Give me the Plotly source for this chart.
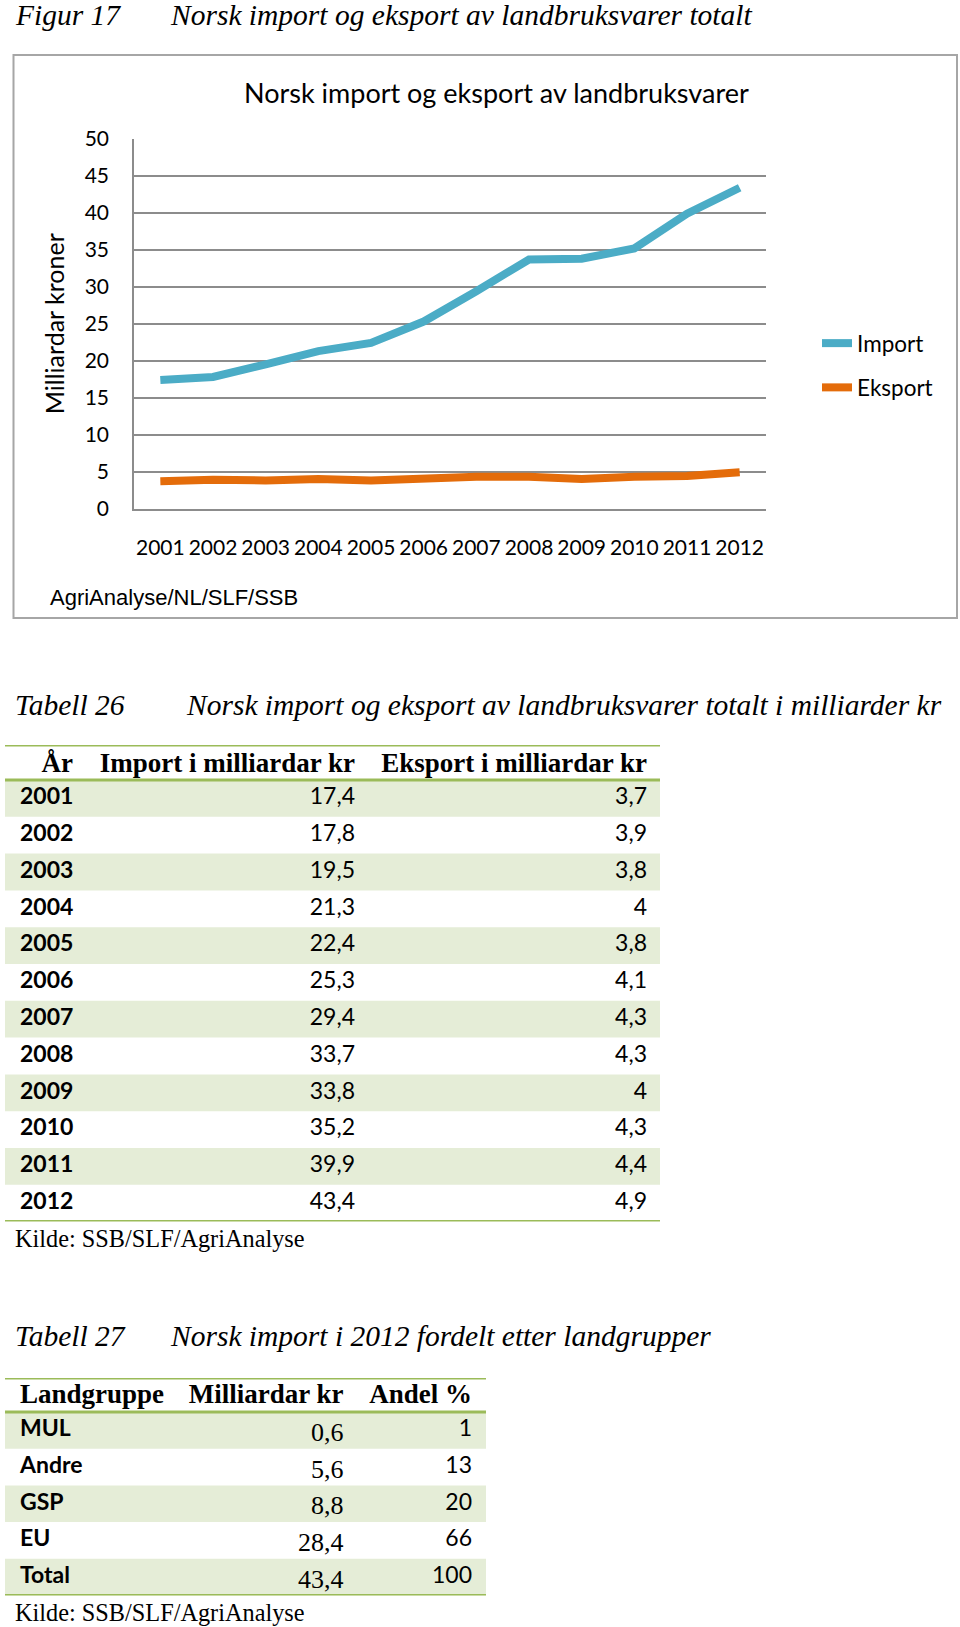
import plotly.graph_objects as go

# ---------------- data ----------------
years = ["2001", "2002", "2003", "2004", "2005", "2006",
         "2007", "2008", "2009", "2010", "2011", "2012"]
import_mrd = [17.4, 17.8, 19.5, 21.3, 22.4, 25.3, 29.4, 33.7, 33.8, 35.2, 39.9, 43.4]
eksport_mrd = [3.7, 3.9, 3.8, 4, 3.8, 4.1, 4.3, 4.3, 4, 4.3, 4.4, 4.9]

land_groups = ["MUL", "Andre", "GSP", "EU", "Total"]
land_mrd = [0.6, 5.6, 8.8, 28.4, 43.4]
land_andel = [1, 13, 20, 66, 100]

y_ticks = [0, 5, 10, 15, 20, 25, 30, 35, 40, 45, 50]

t26_headers = ["År", "Import i milliardar kr", "Eksport i milliardar kr"]
t27_headers = ["Landgruppe", "Milliardar kr", "Andel %"]

# ---------------- layout helpers ----------------
W, H = 960, 1627
def px(x):
    return x / W
def py(y):
    return 1 - y / H

BLUE = "#4BACC6"
ORANGE = "#E46C0A"
GRID = "#8C8C8C"
GREEN = "#9BBB59"
SHADE = "#E5EDD7"
SERIF = "Liberation Serif"
SANS = "Lato"

def fmt(v):
    return f"{v:g}".replace(".", ",")

fig = go.Figure()

# ---------------- line chart ----------------
fig.add_trace(go.Scatter(x=years, y=import_mrd, mode="lines", name="Import",
                         line=dict(color=BLUE, width=8), legendgroup="a",
                         xaxis="x", yaxis="y"))
fig.add_trace(go.Scatter(x=years, y=eksport_mrd, mode="lines", name="Eksport",
                         line=dict(color=ORANGE, width=8), legendgroup="b",
                         xaxis="x", yaxis="y"))

shapes = []

# ---------------- tables (drawn on hidden pixel-unit axes) ----------------
def add_table(ax_id, top, hdr_h, row_h, x_left, x_right, headers, header_cols, body_cols, hdr_yoff):
    n = len(body_cols[0][0])
    total = hdr_h + row_h * n
    xa, ya = f"x{ax_id}", f"y{ax_id}"
    fig.update_layout(**{
        f"xaxis{ax_id}": dict(domain=[0, 1], range=[0, W], visible=False, fixedrange=True),
        f"yaxis{ax_id}": dict(domain=[py(top + total), py(top)], range=[total, 0],
                              visible=False, fixedrange=True),
    })
    centers = [hdr_h + (i + 0.5) * row_h for i in range(n)]
    shaded = [c for i, c in enumerate(centers) if i % 2 == 0]
    fig.add_trace(go.Bar(orientation="h", y=shaded, x=[x_right - x_left] * len(shaded),
                         base=[x_left] * len(shaded), width=row_h,
                         marker=dict(color=SHADE, line=dict(width=0)),
                         xaxis=xa, yaxis=ya, showlegend=False, hoverinfo="skip"))
    for text, (xp, side, fam, size) in zip(headers, header_cols):
        fig.add_trace(go.Scatter(x=[xp], y=[hdr_h / 2 + hdr_yoff], mode="text", text=[f"<b>{text}</b>"],
                                 textposition="middle " + side, cliponaxis=False,
                                 textfont=dict(family=fam, size=size, color="black"),
                                 xaxis=xa, yaxis=ya, showlegend=False, hoverinfo="skip"))
    for vals, xp, side, fam, size, yoff, bold in body_cols:
        txt = [f"<b>{v}</b>" if bold else v for v in vals]
        fig.add_trace(go.Scatter(x=[xp] * n, y=[c + yoff for c in centers], mode="text", text=txt,
                                 textposition="middle " + side, cliponaxis=False,
                                 textfont=dict(family=fam, size=size, color="black"),
                                 xaxis=xa, yaxis=ya, showlegend=False, hoverinfo="skip"))
    for yy in [0, hdr_h, total]:
        shapes.append(dict(type="line", xref=xa, yref=ya, x0=x_left, x1=x_right, y0=yy, y1=yy,
                           line=dict(color=GREEN, width=3), layer="above"))

add_table(3, 745, 35, 36.8, 5, 660, t26_headers,
          [(73, "left", SERIF, 27), (355, "left", SERIF, 27), (647, "left", SERIF, 27)],
          [(years, 20, "right", SANS, 23, 0, True),
           ([fmt(v) for v in import_mrd], 355, "left", SANS, 23, 0, False),
           ([fmt(v) for v in eksport_mrd], 647, "left", SANS, 23, 0, False)], 3)

add_table(4, 1378, 34, 36.7, 5, 486, t27_headers,
          [(20, "right", SERIF, 27), (343.5, "left", SERIF, 27), (472, "left", SERIF, 27)],
          [(land_groups, 20, "right", SANS, 23, 0, True),
           ([fmt(v) for v in land_mrd], 343.5, "left", SERIF, 26, 4, False),
           ([fmt(v) for v in land_andel], 472, "left", SANS, 23, 0, False)], 1)

# chart frame
shapes.append(dict(type="rect", xref="paper", yref="paper",
                   x0=px(13.5), x1=px(957), y0=py(618), y1=py(55),
                   line=dict(color="#A6A6A6", width=2), fillcolor="rgba(0,0,0,0)", layer="below"))

annotations = []
def ann(text, x, y, size, family, xanchor="left", italic=False, color="black"):
    annotations.append(dict(text=(f"<i>{text}</i>" if italic else text),
                            xref="paper", yref="paper", x=px(x), y=py(y),
                            xanchor=xanchor, yanchor="middle", showarrow=False,
                            font=dict(size=size, family=family, color=color)))

ann("Figur 17", 13, 15, 29.5, SERIF, italic=True)
ann("Norsk import og eksport av landbruksvarer totalt", 168, 15, 29.5, SERIF, italic=True)
ann("Norsk import og eksport av landbruksvarer", 496, 92, 27, SANS, xanchor="center")
ann("AgriAnalyse/NL/SLF/SSB", 48, 598, 22, "Liberation Sans")
ann("Tabell 26", 13, 705, 29.5, SERIF, italic=True)
ann("Norsk import og eksport av landbruksvarer totalt i milliarder kr", 184, 705, 29.5, SERIF, italic=True)
ann("Kilde: SSB/SLF/AgriAnalyse", 13, 1238, 24.3, SERIF)
ann("Tabell 27", 13, 1336, 29.5, SERIF, italic=True)
ann("Norsk import i 2012 fordelt etter landgrupper", 168, 1336, 29.5, SERIF, italic=True)
ann("Kilde: SSB/SLF/AgriAnalyse", 13, 1612, 24.3, SERIF)

fig.update_layout(
    width=W, height=H,
    margin=dict(l=0, r=0, t=0, b=0, autoexpand=False),
    paper_bgcolor="white", plot_bgcolor="white",
    showlegend=True, barmode="overlay",
    legend=dict(x=px(817), y=py(322), xanchor="left", yanchor="top",
                font=dict(family=SANS, size=22.5, color="black"),
                tracegroupgap=12, bgcolor="rgba(0,0,0,0)"),
    xaxis=dict(domain=[px(134), px(766)], type="category", range=[-0.5, 11.5],
               showgrid=False, showline=True, linecolor=GRID, linewidth=1.5,
               ticks="", tickfont=dict(family=SANS, size=21, color="black"),
               ticklabelstandoff=20, fixedrange=True),
    yaxis=dict(domain=[py(508.5), py(139)], range=[0, 50], tickvals=y_ticks,
               showgrid=True, gridcolor=GRID, gridwidth=1.5, zeroline=False,
               showline=True, linecolor=GRID, linewidth=1.5, ticks="",
               tickfont=dict(family=SANS, size=21, color="black"),
               ticklabelstandoff=19,
               title=dict(text="Milliardar kroner", font=dict(family=SANS, size=25, color="black"),
                          standoff=13), fixedrange=True),
    shapes=shapes,
    annotations=annotations,
)

fig.write_html("out.html", config={"displayModeBar": False},
               post_script="document.body.style.margin='0px';document.body.style.overflow='hidden';")
